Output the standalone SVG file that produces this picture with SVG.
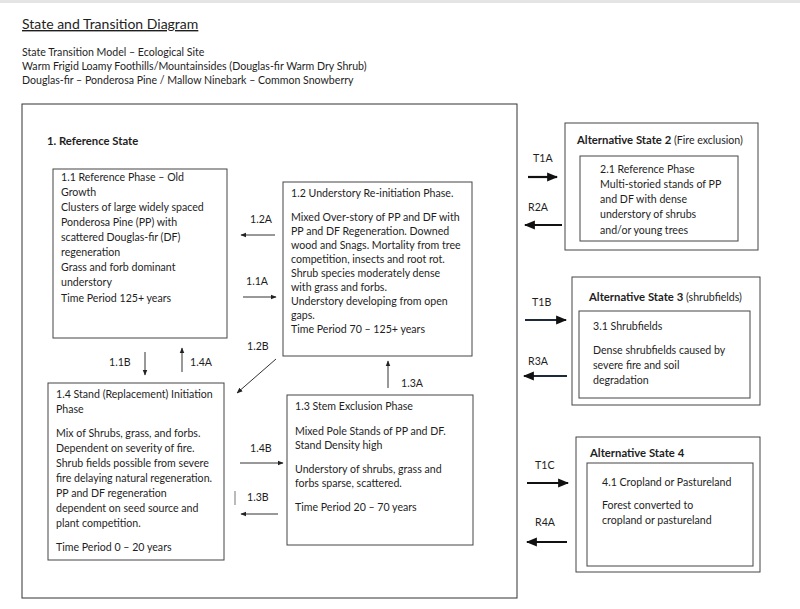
<svg xmlns="http://www.w3.org/2000/svg" width="800" height="609" viewBox="0 0 800 609">
<defs>
<style>
text{font-family:Lato,"Liberation Sans",sans-serif;font-size:10.6px;fill:#1e1e1e}
.b{font-weight:bold;font-size:11.3px}
.box{fill:#fff;stroke:#444;stroke-width:1}
.c{stroke:#333;stroke-width:1;fill:none}
.t{stroke:#111;stroke-width:2.2;fill:none}
</style>
<marker id="ah" viewBox="0 0 10 10" refX="9" refY="5" markerWidth="6" markerHeight="6" markerUnits="userSpaceOnUse" orient="auto"><path d="M0,1 L10,5 L0,9 z" fill="#222"/></marker>
<marker id="ah2" viewBox="0 0 10 10" refX="9" refY="5" markerWidth="5" markerHeight="5" orient="auto"><path d="M0,1 L10,5 L0,9 z" fill="#111"/></marker>
<clipPath id="clip21"><rect x="580" y="156" width="158" height="85"/></clipPath>
</defs>
<rect width="800" height="609" fill="#fff"/>
<rect width="800" height="3" fill="#e4e4e4"/>
<g id="header">
<text x="22" y="29" style="font-size:14px" text-decoration="underline">State and Transition Diagram</text>
<text x="22" y="56">State Transition Model – Ecological Site</text>
<text x="22" y="70">Warm Frigid Loamy Foothills/Mountainsides (Douglas-fir Warm Dry Shrub)</text>
<text x="22" y="84">Douglas-fir – Ponderosa Pine / Mallow Ninebark – Common Snowberry</text>
</g>
<g id="state1">
<rect class="box" x="22" y="104" width="495" height="494" style="stroke:#333"/>
<text class="b" x="47" y="145">1. Reference State</text>
</g>
<g id="phase11">
<rect class="box" x="53" y="169" width="174" height="169"/>
<text x="61" y="181">1.1 Reference Phase – Old</text>
<text x="61" y="196">Growth</text>
<text x="61" y="211">Clusters of large widely spaced</text>
<text x="61" y="226">Ponderosa Pine (PP) with</text>
<text x="61" y="241">scattered Douglas-fir (DF)</text>
<text x="61" y="256">regeneration</text>
<text x="61" y="271">Grass and forb dominant</text>
<text x="61" y="286">understory</text>
<text x="61" y="302">Time Period 125+ years</text>
</g>
<g id="phase12">
<rect class="box" x="283" y="182" width="189" height="174"/>
<text x="291" y="197">1.2 Understory Re-initiation Phase.</text>
<text x="291" y="221">Mixed Over-story of PP and DF with</text>
<text x="291" y="235">PP and DF Regeneration. Downed</text>
<text x="291" y="249">wood and Snags. Mortality from tree</text>
<text x="291" y="263">competition, insects and root rot.</text>
<text x="291" y="277">Shrub species moderately dense</text>
<text x="291" y="291">with grass and forbs.</text>
<text x="291" y="305">Understory developing from open</text>
<text x="291" y="319">gaps.</text>
<text x="291" y="333">Time Period 70 – 125+ years</text>
</g>
<g id="phase14">
<rect class="box" x="48" y="383" width="176" height="177"/>
<text x="56" y="398">1.4 Stand (Replacement) Initiation</text>
<text x="56" y="413">Phase</text>
<text x="56" y="437">Mix of Shrubs, grass, and forbs.</text>
<text x="56" y="452">Dependent on severity of fire.</text>
<text x="56" y="467">Shrub fields possible from severe</text>
<text x="56" y="482">fire delaying natural regeneration.</text>
<text x="56" y="497">PP and DF regeneration</text>
<text x="56" y="512">dependent on seed source and</text>
<text x="56" y="527">plant competition.</text>
<text x="56" y="551">Time Period 0 – 20 years</text>
</g>
<g id="phase13">
<rect class="box" x="287" y="395" width="186" height="150"/>
<text x="295" y="410">1.3 Stem Exclusion Phase</text>
<text x="295" y="435">Mixed Pole Stands of PP and DF.</text>
<text x="295" y="449">Stand Density high</text>
<text x="295" y="473">Understory of shrubs, grass and</text>
<text x="295" y="487">forbs sparse, scattered.</text>
<text x="295" y="511">Time Period 20 – 70 years</text>
</g>
<g id="state2">
<rect class="box" x="565" y="123" width="193" height="127"/>
<text x="577" y="144"><tspan class="b">Alternative State 2</tspan> (Fire exclusion)</text>
<rect class="box" x="580" y="156" width="158" height="85"/>
<g clip-path="url(#clip21)">
<text x="600" y="173">2.1 Reference Phase</text>
<text x="600" y="188">Multi-storied stands of PP</text>
<text x="600" y="203">and DF with dense</text>
<text x="600" y="218">understory of shrubs</text>
<text x="600" y="234">and/or young trees</text>
</g>
</g>
<g id="state3">
<rect class="box" x="572" y="277" width="188" height="128"/>
<text x="589" y="301"><tspan class="b">Alternative State 3</tspan> (shrubfields)</text>
<rect class="box" x="579" y="311" width="171" height="87"/>
<text x="593" y="330">3.1 Shrubfields</text>
<text x="593" y="354">Dense shrubfields caused by</text>
<text x="593" y="369">severe fire and soil</text>
<text x="593" y="384">degradation</text>
</g>
<g id="state4">
<rect class="box" x="576" y="437" width="184" height="135"/>
<text class="b" x="590" y="457">Alternative State 4</text>
<rect class="box" x="587" y="463" width="166" height="103"/>
<text x="602" y="486">4.1 Cropland or Pastureland</text>
<text x="602" y="509">Forest converted to</text>
<text x="602" y="524">cropland or pastureland</text>
</g>
<g id="connectors">
<line class="c" x1="275" y1="235" x2="241" y2="235" marker-end="url(#ah)"/>
<text x="250" y="223">1.2A</text>
<line class="c" x1="243" y1="297" x2="276" y2="297" marker-end="url(#ah)"/>
<text x="246" y="285">1.1A</text>
<line class="c" x1="276" y1="359" x2="237" y2="393" marker-end="url(#ah)"/>
<text x="247" y="350">1.2B</text>
<line class="c" x1="145" y1="352" x2="145" y2="375" marker-end="url(#ah)"/>
<text x="109" y="366">1.1B</text>
<line class="c" x1="182" y1="372" x2="182" y2="348" marker-end="url(#ah)"/>
<text x="190" y="366">1.4A</text>
<line class="c" x1="388" y1="388" x2="388" y2="361" marker-end="url(#ah)"/>
<text x="401" y="387">1.3A</text>
<line class="c" x1="240" y1="463" x2="283" y2="463" marker-end="url(#ah)"/>
<text x="250" y="452">1.4B</text>
<line x1="235" y1="491" x2="235" y2="505" stroke="#777" stroke-width="1"/>
<text x="247" y="501">1.3B</text>
<line class="c" x1="278" y1="514" x2="241" y2="514" marker-end="url(#ah)"/>
<line class="t" x1="528" y1="177" x2="557" y2="177" marker-end="url(#ah2)"/>
<text x="533" y="162">T1A</text>
<line class="t" x1="562" y1="225" x2="525" y2="225" marker-end="url(#ah2)"/>
<text x="528" y="211">R2A</text>
<line class="t" x1="525" y1="320" x2="566" y2="320" marker-end="url(#ah2)" style="stroke:#1c2a3c"/>
<text x="532" y="306">T1B</text>
<line class="t" x1="567" y1="376" x2="524" y2="376" marker-end="url(#ah2)" style="stroke:#1c2a3c"/>
<text x="528" y="365">R3A</text>
<line class="t" x1="527" y1="483" x2="568" y2="483" marker-end="url(#ah2)"/>
<text x="535" y="469">T1C</text>
<line class="t" x1="567" y1="542" x2="527" y2="542" marker-end="url(#ah2)"/>
<text x="535" y="526">R4A</text>
</g>
</svg>
